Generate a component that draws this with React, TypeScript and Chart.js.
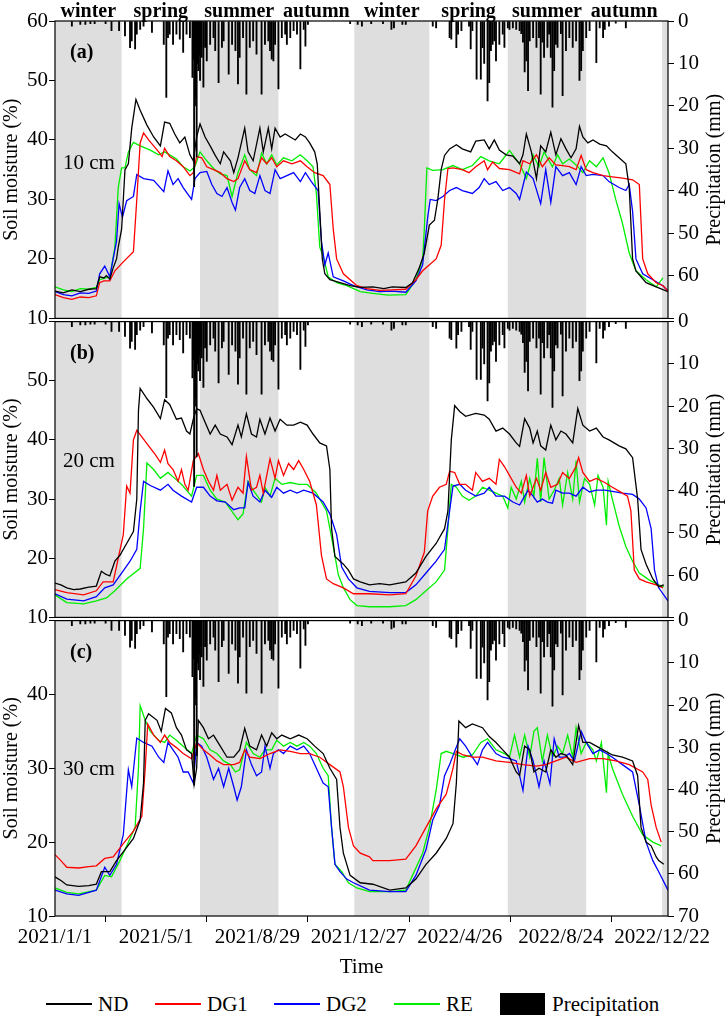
import { useEffect, useRef } from 'react';
import Chart from 'chart.js/auto';

type Pt = [number, number];

// day 0 = 2021/1/1
const X_TICKS = [0, 120, 240, 360, 480, 600, 720];
const X_LABELS = ['2021/1/1', '2021/5/1', '2021/8/29', '2021/12/27', '2022/4/26', '2022/8/24', '2022/12/22'];
const SEASON_NAMES = ['winter', 'spring', 'summer', 'autumn', 'winter', 'spring', 'summer', 'autumn', 'winter'];
const SEASON_STARTS = [0, 79, 172, 265, 355, 444, 537, 630, 720];
const SEASON_ENDS = [79, 172, 265, 355, 444, 537, 630, 720, 727];

const SERIES_NAMES = ['ND', 'DG1', 'DG2', 'RE'];
const SERIES_COLORS = ['#000000', '#ff0000', '#0000ff', '#00ee00'];

// daily precipitation (mm)
const PRECIP: Pt[] = [
  [20, 1.2], [30, 0.8], [36, 0.8], [42, 0.6], [47, 0.6], [60, 0.6], [67, 2.3], [76, 2.3], [83, 3.5], [89, 6.3],
  [91, 4.7], [95, 6.6], [97, 3.1], [101, 2], [105, 1.2], [115, 2.7], [129, 5.5], [132, 18], [134, 3.9], [136, 3.1],
  [140, 5.5], [144, 3.1], [148, 4.3], [152, 7.4], [156, 3.1], [160, 3.9], [163, 13.3], [164, 9], [165, 39], [166, 20],
  [167, 18], [168, 32], [169, 10], [170, 11.7], [171, 8], [172, 14], [173, 6], [174, 8.6], [176, 15.6], [178, 6.2],
  [180, 9.4], [184, 5.5], [188, 3.9], [190, 7], [194, 14.5], [198, 6.2], [200, 4.7], [206, 12.5], [210, 5.5], [214, 7],
  [217, 14.8], [219, 8.6], [223, 3.9], [227, 17.2], [231, 6.2], [235, 4.7], [239, 7.8], [245, 17.2], [249, 5.5], [253, 4.7],
  [255, 7], [257, 9], [259, 9.4], [261, 5.5], [265, 16], [269, 3.9], [273, 3.1], [275, 5.5], [279, 3.9], [283, 2.3],
  [287, 3.1], [291, 11.3], [295, 2], [297, 5.9], [300, 0.8], [350, 0.6], [359, 0.8], [364, 1.2], [375, 0.6], [389, 0.6],
  [399, 2], [402, 1.6], [412, 0.8], [416, 0.8], [448, 1.2], [452, 1.6], [468, 3.9], [470, 4.3], [476, 6.3], [478, 3.1],
  [482, 2.3], [491, 1.2], [493, 6.6], [495, 2.3], [500, 13.7], [505, 13.7], [507, 6.3], [509, 10], [513, 18.8], [515, 14.5],
  [517, 7], [519, 5.5], [521, 4.7], [523, 9.4], [527, 5.5], [531, 3.1], [533, 6.2], [537, 1.6], [539, 2], [543, 1.6],
  [547, 2], [551, 2.3], [553, 3], [555, 5], [557, 12], [559, 9.4], [561, 16.4], [563, 4.7], [567, 3.9], [571, 6.2],
  [574, 3.9], [576, 17.2], [578, 5], [580, 8.6], [584, 6.2], [586, 3.1], [588, 8.6], [590, 20.3], [592, 11.7], [594, 5.5],
  [596, 6.2], [600, 3], [602, 17.6], [606, 7], [610, 3.9], [614, 6.2], [618, 4.7], [622, 14], [624, 11.7], [626, 7],
  [630, 3.9], [634, 2.3], [642, 9.8], [646, 1.6], [650, 3.9], [652, 2], [657, 1.2], [665, 0.5], [677, 1.6],
];

// (a) 10 cm
const A_ND: Pt[] = [
  [0, 14.6], [10, 14.3], [20, 14.8], [30, 14.5], [40, 14.9], [49, 15.0], [53, 17.0], [58, 16.8], [61, 17.2], [65, 16.6],
  [69, 18.5], [73, 20], [75, 22], [79, 25], [81, 30], [83, 35], [87, 36], [91, 42], [96, 46.8], [101, 45], [109, 42.5],
  [117, 40.5], [125, 39], [130, 43], [136, 42.8], [142, 41], [148, 39.5], [154, 40.5], [160, 37.5], [164, 36.5], [168, 40.5],
  [172, 42.7], [178, 40.5], [184, 39], [190, 37.4], [196, 36], [200, 38], [208, 36.5], [212, 34.5], [217, 37], [225, 42],
  [229, 38], [235, 36.5], [243, 42], [247, 38], [253, 42], [257, 38.5], [261, 42], [267, 40.5], [273, 41], [279, 40.5],
  [285, 40], [291, 41], [297, 40.5], [302, 39.5], [308, 38], [311, 36], [314, 28], [317, 20], [320, 17.5], [326, 16.5],
  [338, 16], [350, 15.5], [362, 15.2], [377, 15.3], [390, 15.0], [400, 15.3], [416, 15.2], [424, 16], [432, 18.5], [438, 21],
  [444, 25.7], [450, 26.5], [454, 30], [458, 35], [462, 37.4], [468, 38.5], [476, 39.2], [483, 38.5], [493, 38], [499, 39.8],
  [509, 40], [515, 38.5], [521, 40], [527, 38.3], [535, 37.5], [543, 37.3], [551, 36], [555, 37.5], [559, 41], [565, 38],
  [571, 33.5], [576, 39], [582, 38], [588, 41.3], [594, 37.5], [600, 40.2], [606, 38.5], [612, 37], [618, 38.5], [622, 42.3],
  [626, 40.5], [632, 39.5], [638, 40], [646, 39.3], [654, 39], [661, 38], [669, 37], [677, 36], [681, 32], [685, 20],
  [689, 18], [701, 16], [713, 15.3], [727, 14.5],
];
const A_DG1: Pt[] = [
  [0, 14.0], [10, 13.5], [20, 13.2], [30, 13.6], [40, 13.5], [49, 13.8], [53, 16.0], [58, 16.3], [65, 16.3], [71, 18],
  [81, 19.5], [93, 21.2], [97, 30], [101, 39.5], [105, 41.2], [111, 40], [117, 39], [123, 38], [127, 37.2], [130, 38.6],
  [136, 37.2], [144, 36.5], [152, 35.5], [160, 34], [164, 34.5], [168, 37.2], [174, 37], [180, 35.5], [188, 35], [196, 34.5],
  [204, 33.5], [212, 33], [217, 33.5], [225, 36.5], [231, 35], [239, 34.5], [245, 37], [251, 36], [257, 37], [263, 35.5],
  [271, 36.5], [281, 36], [291, 36.5], [299, 35.5], [308, 34.5], [318, 34], [326, 32.5], [330, 25], [334, 20], [342, 17.5],
  [350, 16.5], [358, 15.5], [370, 15.0], [385, 14.7], [400, 14.8], [416, 14.9], [428, 16.5], [436, 18], [452, 20], [458, 22.3],
  [462, 30], [466, 35.2], [472, 35.3], [483, 35], [491, 34.5], [499, 35.5], [509, 36.5], [513, 35], [519, 36.3], [527, 35.2],
  [539, 35], [551, 34.3], [555, 36.5], [563, 36], [571, 37.5], [578, 35.5], [586, 37], [594, 35.8], [602, 35.7], [610, 35.5],
  [618, 35], [624, 37.4], [630, 35], [638, 34.5], [650, 34], [661, 33.8], [673, 33.6], [685, 33.3], [693, 32.5], [697, 20],
  [703, 17.5], [713, 16], [721, 15.5], [727, 14.6],
];
const A_DG2: Pt[] = [
  [0, 14.5], [10, 14.0], [20, 13.8], [30, 14.3], [40, 14.2], [49, 14.6], [53, 17.5], [59, 18.8], [65, 17], [69, 20],
  [73, 23], [76, 29.3], [80, 27], [85, 29.8], [93, 30.5], [97, 34.2], [105, 33.5], [117, 33.2], [129, 31.3], [134, 34.8],
  [140, 32.5], [146, 33.5], [152, 32], [162, 30], [166, 33.5], [172, 34.5], [180, 34.7], [186, 32.5], [192, 31], [198, 30.5],
  [204, 32], [210, 29.5], [214, 28.2], [219, 32], [225, 33.5], [231, 31.5], [237, 31], [243, 34], [249, 31.5], [255, 31],
  [261, 35], [267, 33.5], [275, 34], [283, 34.5], [291, 33], [297, 34.5], [304, 33], [312, 31.5], [316, 23], [320, 19],
  [324, 21], [330, 17], [342, 16.3], [354, 15.5], [370, 14.8], [385, 14.5], [400, 14.6], [416, 14.4], [428, 16.3], [436, 19],
  [442, 27], [445, 30], [452, 29.8], [460, 30.5], [468, 31.5], [476, 32], [483, 31.5], [495, 31], [503, 32], [509, 33.5],
  [515, 32.5], [523, 33], [531, 31.5], [539, 32], [547, 31], [551, 30], [559, 34.6], [567, 33.5], [576, 29.3], [582, 35],
  [588, 29.5], [594, 35.5], [602, 34], [610, 34.5], [618, 32.5], [624, 35.5], [630, 34], [638, 34.2], [650, 34], [657, 33],
  [669, 32], [677, 31.5], [681, 32.5], [685, 28], [689, 20], [697, 17.5], [709, 16.5], [721, 15.5], [727, 14.6],
];
const A_RE: Pt[] = [
  [0, 15.3], [10, 14.8], [20, 14.5], [30, 15], [40, 14.9], [49, 15.2], [53, 16.5], [65, 17], [71, 22], [75, 32],
  [79, 35.3], [83, 35.3], [87, 38], [93, 39.6], [101, 39], [113, 38.3], [123, 37.5], [130, 38], [136, 37.5], [144, 36.8],
  [152, 35.5], [160, 34.8], [166, 35.5], [172, 38], [180, 36.5], [188, 35.2], [196, 34.3], [204, 34], [210, 30.5], [217, 34.5],
  [225, 37.5], [231, 35], [239, 34], [245, 37.8], [251, 36], [257, 37.5], [263, 35.8], [271, 37], [281, 36.5], [291, 37.5],
  [299, 36.5], [306, 35.5], [310, 31], [314, 22], [318, 20.5], [324, 17], [334, 16], [346, 15.5], [362, 14.5], [377, 14.2],
  [395, 13.9], [416, 14.0], [428, 16.5], [436, 20], [438, 25], [441, 35.3], [448, 34.9], [460, 35], [472, 35.7], [483, 35],
  [495, 35.7], [505, 37.2], [515, 36.5], [527, 36], [539, 38.2], [551, 36], [559, 33.5], [567, 37.5], [574, 35.5], [580, 38],
  [590, 35.5], [596, 37.5], [602, 36], [610, 36.8], [618, 35.8], [626, 34.5], [634, 36.5], [642, 35.5], [650, 37], [657, 34.5],
  [665, 30], [673, 26], [681, 21], [689, 18], [701, 16.5], [713, 15.3], [721, 16.8],
];

// (b) 20 cm
const B_ND: Pt[] = [
  [0, 15.8], [7, 15.5], [14, 15], [22, 14.7], [30, 14.8], [40, 15.1], [49, 15.3], [55, 17.8], [60, 17.3], [65, 17],
  [71, 19.5], [77, 20.5], [85, 22.5], [93, 24.5], [97, 30], [99, 45], [101, 48.7], [109, 47], [117, 45.5], [125, 43.6],
  [130, 46.8], [136, 46], [144, 43.5], [150, 43.7], [156, 41.5], [160, 41], [164, 43.5], [168, 45.3], [172, 45], [178, 43],
  [184, 41], [190, 42.5], [196, 41], [204, 40.5], [210, 39.2], [217, 42.5], [221, 40.5], [227, 44.4], [233, 41], [239, 40.5],
  [243, 43.5], [249, 41], [255, 43.7], [261, 41.5], [267, 43.5], [275, 42.5], [283, 42.5], [291, 43], [299, 42.5], [306, 41],
  [314, 39.5], [322, 39], [326, 35], [328, 25], [332, 20.3], [342, 19], [348, 18], [354, 16.5], [362, 16], [373, 15.5],
  [385, 15.7], [397, 15.5], [416, 16], [428, 17.5], [440, 20.3], [452, 22.5], [462, 25], [466, 28], [470, 40], [474, 45.8],
  [480, 44.8], [487, 44], [499, 44.5], [509, 44.2], [515, 43.5], [523, 41.5], [531, 42], [539, 41], [547, 39.5], [551, 38.9],
  [557, 43.6], [563, 42], [567, 39.5], [572, 41.5], [576, 39], [582, 38.3], [588, 42.5], [594, 40], [600, 41.5], [606, 41],
  [614, 39.5], [620, 45.3], [626, 42.5], [634, 41.5], [642, 42], [650, 40.5], [657, 40], [669, 39], [677, 38.5], [685, 37],
  [691, 30], [695, 21.5], [701, 19], [709, 16.5], [716, 15.2], [722, 15.5],
];
const B_DG1: Pt[] = [
  [0, 14.7], [14, 14.2], [34, 13.8], [49, 14.5], [57, 16], [69, 16], [75, 20], [81, 24], [85, 32.2], [89, 31],
  [93, 40], [97, 41.6], [103, 40.5], [111, 39], [119, 37.5], [125, 36.2], [130, 38.3], [134, 36], [140, 35], [146, 33],
  [150, 35], [154, 32.5], [158, 31.5], [164, 36.5], [170, 37.7], [176, 35], [182, 33], [188, 31.5], [192, 34], [196, 31.5],
  [204, 32.5], [210, 29.8], [217, 32], [223, 31], [227, 37.2], [233, 31.5], [239, 32], [243, 34], [247, 31], [255, 36.8],
  [261, 33.5], [265, 36.5], [271, 34], [277, 36], [283, 35], [289, 36.5], [295, 35], [302, 33], [310, 29], [316, 20.5],
  [322, 16.5], [330, 15.7], [342, 15], [354, 14], [373, 14], [397, 13.8], [416, 14], [428, 17], [438, 21], [442, 28],
  [448, 30.5], [456, 32], [464, 32.5], [468, 34.7], [474, 34.5], [480, 32.5], [487, 32.5], [495, 31.5], [499, 34.5], [507, 33],
  [515, 33.5], [523, 32.5], [527, 36.7], [533, 35.5], [539, 34], [547, 32], [553, 31], [559, 34], [563, 30.5], [571, 33.5],
  [576, 31.5], [582, 34.5], [588, 32], [596, 32.5], [602, 34.5], [610, 33.5], [618, 35.5], [621, 37], [626, 34.5], [634, 33],
  [642, 33.5], [652, 32.8], [661, 32], [673, 31], [679, 30.5], [683, 28], [687, 18], [693, 16.5], [701, 16], [713, 15.5],
  [721, 15],
];
const B_DG2: Pt[] = [
  [0, 14.0], [14, 13.1], [34, 12.8], [49, 13.5], [59, 15], [69, 15.5], [79, 17.5], [89, 19.5], [97, 21.5], [101, 28],
  [105, 33], [113, 32.3], [125, 31.5], [134, 32.5], [140, 31.5], [150, 30.5], [162, 29.5], [168, 32], [176, 32], [184, 30.5],
  [192, 29.7], [202, 29.5], [212, 28.2], [219, 28.5], [225, 28.5], [229, 32.8], [235, 30.5], [243, 29.5], [249, 31.5], [257, 30.3],
  [263, 32], [271, 31], [279, 31.5], [287, 31], [295, 31.5], [306, 31], [318, 29.5], [326, 27.5], [334, 24], [340, 18.5],
  [348, 16.5], [358, 15], [373, 14.4], [397, 14.2], [416, 14.2], [428, 15.5], [440, 17.5], [452, 19.5], [462, 21.5], [468, 28],
  [472, 32.2], [480, 32.5], [487, 31.5], [499, 30.5], [509, 31], [515, 32], [523, 30.5], [533, 30.5], [543, 29.5], [551, 29],
  [555, 30], [561, 31.5], [567, 30.5], [572, 29.5], [578, 30], [584, 29.5], [590, 29.3], [594, 31.5], [602, 31], [610, 31],
  [618, 30.5], [626, 32], [634, 31.2], [642, 31.5], [652, 31.5], [661, 31.3], [673, 31], [685, 30.8], [693, 30], [701, 28.5],
  [707, 25], [711, 18], [716, 15], [727, 12.8],
];
const B_RE: Pt[] = [
  [0, 13.8], [14, 12.5], [34, 12.3], [49, 12.8], [61, 13.3], [71, 14.5], [85, 16.5], [101, 18.3], [105, 25], [109, 36.1],
  [117, 35], [125, 33.5], [134, 34.5], [142, 33.5], [150, 32.5], [162, 30.5], [168, 34], [176, 34], [184, 31.5], [192, 30],
  [202, 29.5], [212, 27.5], [217, 26.5], [223, 27.5], [229, 33], [235, 31.5], [245, 29.5], [249, 32], [255, 30.5], [261, 33.5],
  [269, 32.5], [279, 32.8], [289, 32.5], [299, 32.5], [310, 31], [322, 28], [330, 22], [336, 17.2], [342, 15], [350, 13],
  [358, 12], [373, 11.8], [397, 11.8], [416, 12], [428, 13], [440, 14.5], [452, 16], [462, 18], [466, 25], [470, 32.5],
  [476, 32], [483, 30.5], [491, 29.8], [499, 30.5], [507, 32], [515, 31.5], [523, 31], [531, 30.5], [537, 28.5], [541, 32],
  [547, 30], [553, 33], [557, 29.5], [563, 33.5], [568, 30.5], [572, 36.9], [576, 29.5], [580, 37], [586, 30], [592, 31.5],
  [598, 33.5], [602, 29], [608, 34.5], [614, 30], [618, 36.5], [622, 29.5], [628, 33.5], [634, 32.5], [640, 29], [644, 34],
  [650, 32], [654, 25.6], [656, 33], [661, 30], [669, 25.5], [677, 22], [685, 19.5], [693, 17.5], [705, 16.3], [716, 15.5],
  [722, 15.2],
];

// (c) 30 cm
const C_ND: Pt[] = [
  [0, 15.3], [7, 14.8], [14, 14.2], [28, 14], [40, 14.1], [49, 14.3], [55, 16], [65, 16], [73, 17.5], [83, 19],
  [93, 20.5], [101, 23], [105, 28], [107, 36.5], [111, 37.4], [121, 36.5], [126, 35], [131, 38.1], [138, 37.5], [144, 35.5],
  [150, 34.5], [156, 32.5], [162, 32], [165, 27.8], [168, 30], [170, 36.5], [176, 35.5], [182, 34], [188, 34.5], [196, 33],
  [204, 31.5], [212, 31.5], [219, 32.5], [225, 35.4], [231, 33], [239, 32.5], [245, 34.5], [251, 33], [257, 34.8], [263, 34],
  [269, 34.5], [279, 34], [289, 34.5], [299, 34], [308, 33], [318, 32], [326, 30], [334, 28.5], [338, 22], [342, 18.5],
  [350, 15.5], [362, 14.5], [377, 14.3], [397, 13.5], [416, 13.8], [428, 15], [440, 17], [452, 18.5], [464, 20.5], [472, 22.5],
  [476, 28], [479, 36.4], [487, 35.5], [495, 36], [507, 35.5], [515, 34.3], [523, 33.5], [531, 32.5], [539, 31.5], [547, 29.5],
  [551, 29], [557, 33], [563, 32.5], [568, 29.5], [574, 30], [582, 29.5], [588, 32.5], [594, 31.5], [600, 32], [606, 31.8],
  [614, 30.5], [621, 35.8], [626, 33.5], [634, 33.5], [642, 33], [650, 32.5], [661, 31.8], [673, 31.5], [685, 31], [691, 29],
  [695, 22], [701, 20], [707, 19.5], [713, 18], [716, 17.5], [722, 17],
];
const C_DG1: Pt[] = [
  [0, 18.3], [7, 17.5], [14, 16.6], [28, 16.5], [40, 16.7], [49, 16.8], [59, 17.8], [69, 18], [81, 19.8], [93, 21.5],
  [103, 23.5], [107, 30], [110, 36], [117, 34.5], [125, 33.5], [130, 34.5], [136, 33.5], [144, 32.8], [152, 32], [162, 31.3],
  [168, 33.5], [176, 32.5], [184, 31.8], [192, 31], [200, 30.5], [212, 30.5], [219, 30.8], [225, 32.5], [231, 31.5], [243, 31.3],
  [255, 32], [267, 32.5], [279, 32.3], [291, 32], [302, 32], [314, 31.5], [326, 30.5], [338, 29.5], [342, 27.5], [348, 22],
  [354, 19.5], [362, 18.5], [373, 18], [377, 17.5], [397, 17.5], [416, 17.7], [428, 19.5], [440, 22], [452, 24.5], [464, 26.5],
  [472, 30], [476, 32.3], [484, 31.8], [495, 31.5], [507, 31.5], [523, 31], [539, 30.8], [555, 30.5], [571, 30.3], [582, 30.5],
  [594, 31], [606, 31.5], [618, 30.8], [634, 31.3], [650, 31.3], [665, 31], [681, 30.5], [697, 29.5], [703, 28.5], [707, 25],
  [713, 22], [719, 20],
];
const C_DG2: Pt[] = [
  [0, 13.5], [14, 13], [28, 12.8], [49, 13.5], [59, 16.6], [65, 15.5], [73, 17], [81, 21], [87, 29.8], [91, 27.5],
  [97, 34.1], [105, 33.5], [115, 33], [123, 31.5], [129, 30.8], [134, 33.5], [140, 32.5], [146, 31.5], [152, 29.5], [158, 29.5],
  [164, 28], [168, 33.5], [174, 33], [180, 31.5], [188, 28.5], [194, 30], [200, 27.5], [206, 30], [212, 27.5], [216, 25.7],
  [221, 27.5], [227, 32.5], [233, 30.5], [239, 29], [245, 29.5], [249, 33], [255, 30], [259, 32], [265, 32.5], [271, 32],
  [279, 33], [287, 32.5], [295, 33], [302, 32], [310, 30], [318, 28], [324, 27.5], [328, 22], [332, 17], [338, 16],
  [346, 15], [354, 14.5], [373, 13.5], [397, 13.3], [416, 13.3], [428, 15.5], [440, 19], [448, 23], [456, 25], [462, 29],
  [468, 30.5], [474, 32.3], [480, 34], [487, 33], [495, 31.5], [501, 30.5], [507, 32.5], [513, 33.5], [523, 32], [531, 31.5],
  [539, 31.3], [547, 31], [555, 27], [561, 33], [567, 31], [574, 27.5], [580, 31], [587, 27.9], [592, 34], [598, 31.5],
  [604, 31.5], [610, 32], [616, 31], [624, 35], [630, 33.5], [638, 32], [646, 32.5], [654, 32], [661, 31.5], [673, 30.5],
  [685, 29.5], [693, 25], [701, 20], [709, 17.5], [716, 16], [727, 13.5],
];
const C_RE: Pt[] = [
  [0, 13.8], [14, 13.2], [28, 13], [49, 13.5], [59, 15.5], [67, 15.3], [77, 17.5], [87, 20], [95, 22], [99, 30],
  [101, 38.5], [107, 36.5], [113, 35], [123, 33.8], [130, 33.5], [136, 34.5], [144, 33.8], [152, 33], [162, 32], [168, 34.5],
  [176, 34], [184, 32.5], [192, 32], [200, 31], [208, 30.5], [214, 29.5], [219, 29.8], [227, 33.5], [235, 32], [243, 31.5],
  [249, 32.5], [257, 32.5], [263, 33.8], [271, 33], [279, 33.5], [287, 33], [295, 33.5], [302, 33], [310, 32], [318, 30],
  [324, 29], [328, 22], [332, 17], [340, 16], [348, 14.5], [358, 13.8], [373, 13.3], [397, 13.3], [416, 13.5], [424, 15.5],
  [436, 18.5], [444, 22], [452, 27], [458, 32], [464, 32.3], [472, 32], [484, 31.5], [495, 31.8], [505, 33.5], [513, 34],
  [523, 32.5], [533, 32], [539, 31.5], [545, 34.5], [551, 31.5], [557, 34.5], [563, 31.5], [568, 35], [572, 35.5], [578, 31],
  [584, 34.5], [590, 31.5], [596, 33], [602, 32], [608, 34.5], [614, 31.5], [618, 35.5], [624, 32], [630, 33.5], [638, 32.5],
  [642, 31], [648, 33.5], [654, 26.7], [656, 32], [661, 30], [673, 26.5], [685, 23.5], [697, 21], [709, 20], [719, 19.5],
];

const FONT = '"Liberation Serif", "Times New Roman", serif';

interface PanelCfg {
  top: number;
  height: number;
  padTop: number;
  padBottom: number;
  yMax: number;
  hideLeftTop: boolean;
  hideRightBottom: boolean;
  showX: boolean;
  seasons: boolean;
  letter: string;
  depth: string;
  depthOffset: number;
  series: Pt[][];
}

const PANELS: PanelCfg[] = [
  { top: 0, height: 335, padTop: 21, padBottom: 15, yMax: 60, hideLeftTop: false, hideRightBottom: true, showX: false, seasons: true, letter: '(a)', depth: '10 cm', depthOffset: 142, series: [A_ND, A_DG1, A_DG2, A_RE] },
  { top: 305, height: 329, padTop: 15, padBottom: 15, yMax: 60, hideLeftTop: true, hideRightBottom: true, showX: false, seasons: false, letter: '(b)', depth: '20 cm', depthOffset: 140, series: [B_ND, B_DG1, B_DG2, B_RE] },
  { top: 604, height: 376, padTop: 15, padBottom: 0, yMax: 50, hideLeftTop: true, hideRightBottom: false, showX: true, seasons: false, letter: '(c)', depth: '30 cm', depthOffset: 149, series: [C_ND, C_DG1, C_DG2, C_RE] },
];

const toXY = (pts: Pt[]) => pts.map(([x, y]) => ({ x, y }));

function Panel({ cfg }: { cfg: PanelCfg }) {
  const ref = useRef<HTMLCanvasElement>(null);

  useEffect(() => {
    if (!ref.current) return;
    Chart.getChart(ref.current)?.destroy();

    const decor = {
      id: 'decor',
      beforeDatasetsDraw(chart: Chart) {
        const { ctx, chartArea: a } = chart;
        const x = chart.scales.x;
        ctx.save();
        ctx.fillStyle = '#dedede';
        SEASON_NAMES.forEach((name, i) => {
          if (name !== 'winter' && name !== 'summer') return;
          const x0 = Math.max(a.left, x.getPixelForValue(SEASON_STARTS[i]));
          const x1 = Math.min(a.right, x.getPixelForValue(SEASON_ENDS[i]));
          ctx.fillRect(x0, a.top, x1 - x0, a.bottom - a.top);
        });
        ctx.restore();
      },
      afterDatasetsDraw(chart: Chart) {
        const { ctx, chartArea: a } = chart;
        const x = chart.scales.x;
        ctx.save();
        ctx.strokeStyle = '#000';
        ctx.lineWidth = 1.2;
        ctx.strokeRect(a.left, a.top, a.right - a.left, a.bottom - a.top);
        ctx.fillStyle = '#000';
        ctx.textBaseline = 'middle';
        ctx.font = `bold 20px ${FONT}`;
        ctx.textAlign = 'left';
        ctx.fillText(cfg.letter, a.left + 15, a.top + 32);
        ctx.font = `21px ${FONT}`;
        ctx.fillText(cfg.depth, a.left + 8, a.top + cfg.depthOffset);
        if (cfg.seasons) {
          ctx.font = `bold 20px ${FONT}`;
          ctx.textAlign = 'center';
          ctx.textBaseline = 'alphabetic';
          SEASON_NAMES.slice(0, 8).forEach((name, i) => {
            const cx = (x.getPixelForValue(SEASON_STARTS[i]) + x.getPixelForValue(SEASON_ENDS[i])) / 2;
            ctx.fillText(name, cx, 17);
          });
        }
        ctx.font = `20px ${FONT}`;
        ctx.textAlign = 'center';
        ctx.textBaseline = 'middle';
        ctx.translate(715, (a.top + a.bottom) / 2);
        ctx.rotate(-Math.PI / 2);
        ctx.fillText('Precipitation (mm)', 0, 0);
        ctx.restore();
      },
    };

    const tickGrid = { display: true, drawOnChartArea: false, drawTicks: true, tickLength: 6, color: '#000', lineWidth: 1 };

    const chart = new Chart(ref.current, {
      type: 'line',
      data: {
        datasets: [
          {
            type: 'bar',
            label: 'Precipitation',
            data: toXY(PRECIP),
            yAxisID: 'y2',
            backgroundColor: '#000',
            borderWidth: 0,
            barThickness: 1.2,
          } as any,
          ...cfg.series.map((s, i) => ({
            type: 'line',
            label: SERIES_NAMES[i],
            data: toXY(s),
            yAxisID: 'y',
            borderColor: SERIES_COLORS[i],
            borderWidth: 1.3,
            pointRadius: 0,
            tension: 0,
            fill: false,
          })),
        ],
      },
      options: {
        animation: false,
        responsive: false,
        events: [],
        layout: { padding: { top: cfg.padTop, bottom: cfg.padBottom, left: 0, right: 0 } },
        plugins: { legend: { display: false }, tooltip: { enabled: false } },
        scales: {
          x: {
            type: 'linear',
            display: cfg.showX,
            min: 0,
            max: 727,
            offset: false,
            afterBuildTicks: (scale: any) => {
              scale.ticks = X_TICKS.map((v) => ({ value: v }));
            },
            afterFit: (scale: any) => {
              if (cfg.showX) scale.height = 64;
            },
            ticks: {
              autoSkip: false,
              maxRotation: 0,
              padding: 3,
              color: '#000',
              font: { family: FONT, size: 21 },
              callback: (v: any) => X_LABELS[X_TICKS.indexOf(Number(v))] ?? '',
            },
            grid: tickGrid,
            border: { display: false },
            title: { display: true, text: 'Time', color: '#000', font: { family: FONT, size: 21 }, padding: 0 },
          },
          y: {
            type: 'linear',
            position: 'left',
            min: 10,
            max: cfg.yMax,
            afterFit: (scale: any) => {
              scale.width = 55;
            },
            ticks: {
              stepSize: 10,
              padding: 1,
              color: '#000',
              font: { family: FONT, size: 21 },
              callback: (v: any) => (cfg.hideLeftTop && Number(v) === cfg.yMax ? '' : String(v)),
            },
            grid: tickGrid,
            border: { display: false },
            title: { display: true, text: 'Soil moisture (%)', color: '#000', font: { family: FONT, size: 20 }, padding: 0 },
          },
          y2: {
            type: 'linear',
            position: 'right',
            min: 0,
            max: 70,
            reverse: true,
            afterFit: (scale: any) => {
              scale.width = 58;
            },
            ticks: {
              stepSize: 10,
              padding: 4,
              color: '#000',
              font: { family: FONT, size: 21 },
              callback: (v: any) => (cfg.hideRightBottom && Number(v) === 70 ? '' : String(v)),
            },
            grid: tickGrid,
            border: { display: false },
          },
        },
      },
      plugins: [decor],
    } as any);

    return () => chart.destroy();
  }, [cfg]);

  return (
    <canvas
      ref={ref}
      width={726}
      height={cfg.height}
      style={{ position: 'absolute', left: 0, top: cfg.top, width: 726, height: cfg.height }}
    />
  );
}

export default function App() {
  const legendLeft = [46, 155, 274, 394];
  return (
    <div style={{ position: 'absolute', left: 0, top: 0, width: 726, height: 1017, background: '#fff', fontFamily: FONT, overflow: 'hidden' }}>
      {PANELS.map((p, i) => (
        <Panel key={i} cfg={p} />
      ))}
      {SERIES_NAMES.map((name, i) => (
        <div key={name} style={{ position: 'absolute', left: legendLeft[i], top: 992, height: 24, display: 'flex', alignItems: 'center' }}>
          <div style={{ width: 46, height: 1.5, background: SERIES_COLORS[i], marginRight: 6 }} />
          <span style={{ fontSize: 21, lineHeight: '24px', color: '#000' }}>{name}</span>
        </div>
      ))}
      <div style={{ position: 'absolute', left: 500, top: 993, height: 22, display: 'flex', alignItems: 'center' }}>
        <div style={{ width: 45, height: 22, background: '#000', marginRight: 7 }} />
        <span style={{ fontSize: 21, lineHeight: '24px', color: '#000' }}>Precipitation</span>
      </div>
    </div>
  );
}
